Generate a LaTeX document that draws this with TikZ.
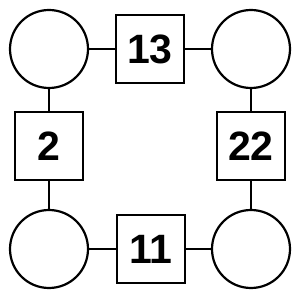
\documentclass[tikz,border=0pt]{standalone}
\usepackage{fontspec}
\setmainfont{Liberation Sans}
\begin{document}
\begin{tikzpicture}[x=1pt, y=1pt, line width=2.2pt, font=\fontsize{41}{41}\selectfont\bfseries,
	ring/.style={draw, circle, minimum size=78pt, inner sep=0pt},
	numbox/.style={draw, rectangle, minimum size=68pt, inner sep=0pt}]
	\useasboundingbox (0,0) rectangle (300,300);
	\node[ring] (tl) at (49,251) {};
	\node[ring] (tr) at (251,251) {};
	\node[ring] (bl) at (49,51) {};
	\node[ring] (br) at (251,51) {};
	\node[numbox] (top) at (150,251) {13};
	\node[numbox] (bot) at (151,51) {11};
	\node[numbox] (lft) at (49,154) {2};
	\node[numbox] (rgt) at (251,154) {22};
	\draw (tl)--(top) (top)--(tr);
	\draw (bl)--(bot) (bot)--(br);
	\draw (tl)--(lft) (lft)--(bl);
	\draw (tr)--(rgt) (rgt)--(br);
\end{tikzpicture}
\end{document}
